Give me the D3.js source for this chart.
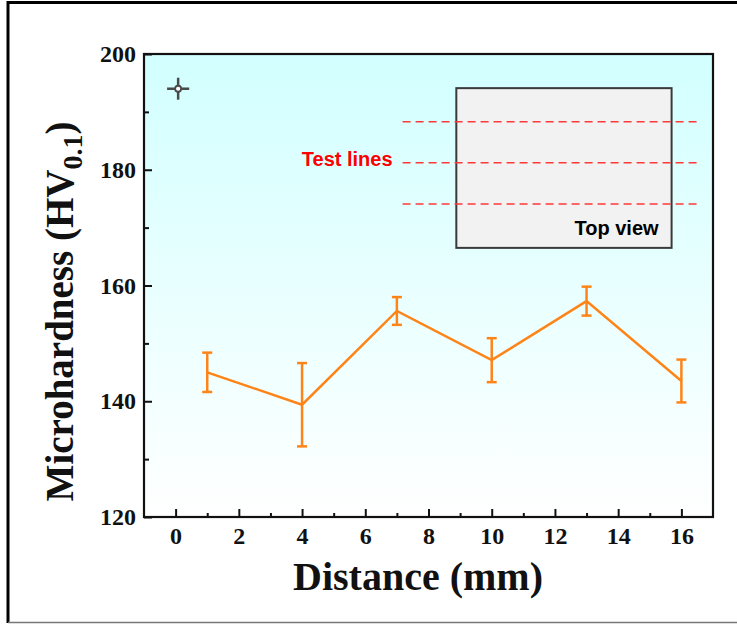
<!DOCTYPE html>
<html lang="en">
<head>
<meta charset="UTF-8">
<title>Microhardness vs Distance</title>
<script src="https://d3js.org/d3.v7.min.js"></script>
<style>
  body { margin: 0; background: #fff; }
  svg { display: block; }
  .tick text { font-family: "Liberation Serif", "Times New Roman", serif; font-weight: bold; font-size: 24px; fill: #111; }
  .axis path, .axis line { stroke: #111; }
</style>
</head>
<body>
<script>
// data
const distance = [1, 4, 7, 10, 13, 16];
const hardness = [145.0, 139.4, 155.6, 147.1, 157.3, 143.5];
const hardnessErr = [3.4, 7.2, 2.4, 3.8, 2.5, 3.7];
const xTicks = [0, 2, 4, 6, 8, 10, 12, 14, 16];
const yTicks = [120, 140, 160, 180, 200];

// error-scale marker in the upper left corner
const markerPoint = [0.08, 194];
const markerErr = [0.35, 1.9];

// inset sketch, in data units
const insetBox = [8.88, 15.69, 194.1, 166.5];
const testLineY = [188.3, 181.2, 174.1];
const testLineX = [7.18, 16.63];

const width = 737, height = 625;
const margin = {top: 54, right: 24, bottom: 108, left: 144};

const svg = d3.select("body").append("svg")
  .attr("width", width)
  .attr("height", height);

const x = d3.scaleLinear().domain([-1, 17]).range([margin.left, width - margin.right]);
const y = d3.scaleLinear().domain([120, 200]).range([height - margin.bottom, margin.top]);

// outer frame
svg.append("line").attr("x1", 7).attr("x2", width).attr("y1", 2.5).attr("y2", 2.5)
  .attr("stroke", "#000").attr("stroke-width", 3);
svg.append("line").attr("x1", 8).attr("x2", 8).attr("y1", 1).attr("y2", 623)
  .attr("stroke", "#000").attr("stroke-width", 3);
svg.append("line").attr("x1", 8).attr("x2", width).attr("y1", 622.5).attr("y2", 622.5)
  .attr("stroke", "#777").attr("stroke-width", 1.5);

// background gradient
const grad = svg.append("defs").append("linearGradient")
  .attr("id", "bg").attr("x1", 0).attr("x2", 0).attr("y1", 0).attr("y2", 1);
grad.append("stop").attr("offset", "0%").attr("stop-color", "#d2ffff");
grad.append("stop").attr("offset", "100%").attr("stop-color", "#ffffff");

svg.append("rect")
  .attr("x", x(-1)).attr("y", y(200))
  .attr("width", x(17) - x(-1)).attr("height", y(120) - y(200))
  .attr("fill", "url(#bg)");

// inset
svg.append("rect")
  .attr("x", x(insetBox[0])).attr("y", y(insetBox[2]))
  .attr("width", x(insetBox[1]) - x(insetBox[0]))
  .attr("height", y(insetBox[3]) - y(insetBox[2]))
  .attr("fill", "#f2f2f2").attr("stroke", "#3a3a3a").attr("stroke-width", 2);

svg.append("g").selectAll("line")
  .data(testLineY)
  .join("line")
  .attr("x1", x(testLineX[0])).attr("x2", x(testLineX[1]))
  .attr("y1", d => y(d)).attr("y2", d => y(d))
  .attr("stroke", "#ff3838").attr("stroke-width", 1.5)
  .attr("stroke-dasharray", "8,5");

svg.append("text")
  .attr("x", x(testLineX[0]) - 10).attr("y", y(testLineY[1]) + 3)
  .attr("text-anchor", "end")
  .attr("font-family", "Liberation Sans, Arial, sans-serif")
  .attr("font-weight", "bold").attr("font-size", 20)
  .attr("fill", "#ff0000")
  .text("Test lines");

svg.append("text")
  .attr("x", x(insetBox[1]) - 13).attr("y", y(insetBox[3]) - 13)
  .attr("text-anchor", "end")
  .attr("font-family", "Liberation Sans, Arial, sans-serif")
  .attr("font-weight", "bold").attr("font-size", 20)
  .attr("fill", "#000")
  .text("Top view");

// marker
const mk = svg.append("g").attr("stroke", "#4a4a4a").attr("stroke-width", 2.5);
mk.append("line")
  .attr("x1", x(markerPoint[0] - markerErr[0])).attr("x2", x(markerPoint[0] + markerErr[0]))
  .attr("y1", y(markerPoint[1])).attr("y2", y(markerPoint[1]));
mk.append("line")
  .attr("x1", x(markerPoint[0])).attr("x2", x(markerPoint[0]))
  .attr("y1", y(markerPoint[1] - markerErr[1])).attr("y2", y(markerPoint[1] + markerErr[1]));
mk.append("circle")
  .attr("cx", x(markerPoint[0])).attr("cy", y(markerPoint[1])).attr("r", 3)
  .attr("fill", "#fff").attr("stroke-width", 1.8);

// line + error bars
const data = distance.map((d, i) => ({x: d, y: hardness[i], e: hardnessErr[i]}));
const orange = "#ff8418";

svg.append("path")
  .datum(data)
  .attr("fill", "none").attr("stroke", orange).attr("stroke-width", 2.5)
  .attr("d", d3.line().x(d => x(d.x)).y(d => y(d.y)));

const eb = svg.append("g").attr("stroke", orange).attr("stroke-width", 2.5)
  .selectAll("g").data(data).join("g");
eb.append("line")
  .attr("x1", d => x(d.x)).attr("x2", d => x(d.x))
  .attr("y1", d => y(d.y - d.e)).attr("y2", d => y(d.y + d.e));
eb.append("line")
  .attr("x1", d => x(d.x) - 5).attr("x2", d => x(d.x) + 5)
  .attr("y1", d => y(d.y + d.e)).attr("y2", d => y(d.y + d.e));
eb.append("line")
  .attr("x1", d => x(d.x) - 5).attr("x2", d => x(d.x) + 5)
  .attr("y1", d => y(d.y - d.e)).attr("y2", d => y(d.y - d.e));

// axes: inward ticks, minor ticks in between
const xMinor = d3.range(-1, 18, 1).filter(v => !xTicks.includes(v) && v > -1 && v < 17);
const yMinor = [130, 150, 170, 190];

svg.append("g").attr("class", "axis")
  .attr("transform", `translate(0,${y(120)})`)
  .call(d3.axisBottom(x).tickValues(xMinor).tickSize(-4).tickFormat(""))
  .call(g => g.select(".domain").remove())
  .selectAll("line").attr("stroke-width", 2);
svg.append("g").attr("class", "axis")
  .attr("transform", `translate(0,${y(120)})`)
  .call(d3.axisBottom(x).tickValues(xTicks).tickSize(-8).tickPadding(10).tickFormat(d3.format("d")))
  .call(g => g.select(".domain").remove())
  .call(g => g.selectAll("line").attr("stroke-width", 2));

svg.append("g").attr("class", "axis")
  .attr("transform", `translate(${x(-1)},0)`)
  .call(d3.axisLeft(y).tickValues(yMinor).tickSize(-5).tickFormat(""))
  .call(g => g.select(".domain").remove())
  .selectAll("line").attr("stroke-width", 2);
svg.append("g").attr("class", "axis")
  .attr("transform", `translate(${x(-1)},0)`)
  .call(d3.axisLeft(y).tickValues(yTicks).tickSize(-8).tickPadding(8).tickFormat(d3.format("d")))
  .call(g => g.select(".domain").remove())
  .call(g => g.selectAll("line").attr("stroke-width", 2));

// plot frame
svg.append("rect")
  .attr("x", x(-1)).attr("y", y(200))
  .attr("width", x(17) - x(-1)).attr("height", y(120) - y(200))
  .attr("fill", "none").attr("stroke", "#111").attr("stroke-width", 2.2);

// axis titles
svg.append("text")
  .attr("x", 418).attr("y", 590)
  .attr("text-anchor", "middle")
  .attr("font-family", "Liberation Serif, Times New Roman, serif")
  .attr("font-weight", "bold").attr("font-size", 40)
  .attr("fill", "#111")
  .text("Distance (mm)");

const yt = svg.append("text")
  .attr("transform", `translate(73,${(y(120) + y(200)) / 2 + 26}) rotate(-90)`)
  .attr("text-anchor", "middle")
  .attr("font-family", "Liberation Serif, Times New Roman, serif")
  .attr("font-weight", "bold").attr("font-size", 39)
  .attr("fill", "#111");
yt.append("tspan").text("Microhardness (HV");
yt.append("tspan").attr("font-size", 28).attr("dy", 9).text("0.1");
yt.append("tspan").attr("dy", -9).text(")");
</script>
</body>
</html>
